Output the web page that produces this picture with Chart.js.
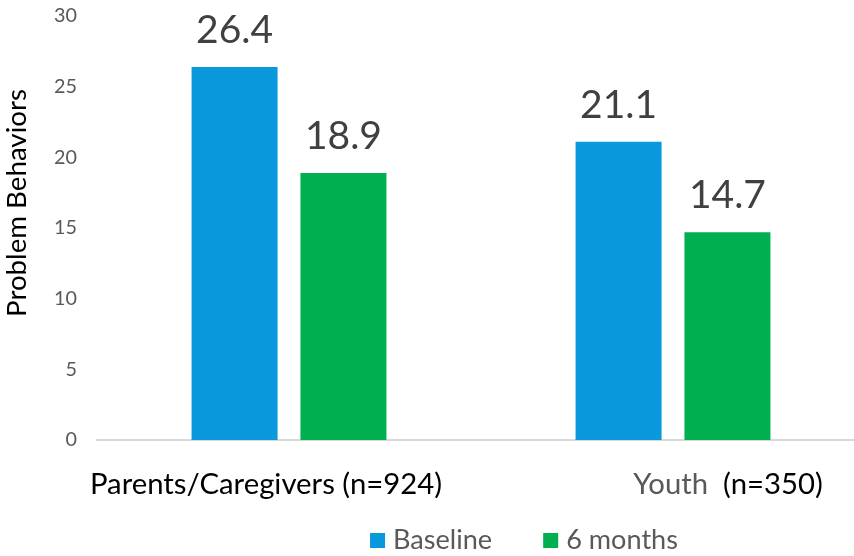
<!DOCTYPE html>
<html><head><meta charset="utf-8">
<script src="https://cdn.jsdelivr.net/npm/chart.js@4"></script>
<style>html,body{margin:0;padding:0;background:#fff}#wrap{width:854px;height:556px;position:relative}</style>
</head><body><div id="wrap"><canvas id="c" width="854" height="556"></canvas></div>
<script>
const categories = ['Parents/Caregivers', 'Youth'];
const sampleSizes = ['(n=924)', '(n=350)'];
const seriesNames = ['Baseline', '6 months'];
const baselineValues = [26.4, 21.1];
const sixMonthValues = [18.9, 14.7];
const yAxisTitle = 'Problem Behaviors';

const FAMILY = 'Lato, "Open Sans", sans-serif';
const BLUE = '#0A98DC';
const GREEN = '#00B050';

// choose a font size so that a sample string has the given width
const measurer = document.createElement('canvas').getContext('2d');
function fitSize(text, width) {
  measurer.font = '100px ' + FAMILY;
  return Math.round(100 * width / measurer.measureText(text).width * 10) / 10;
}
const SIZE_VALUE = fitSize('26.4', 77);
const SIZE_CAT = fitSize('Parents/Caregivers (n=924)', 352);
const SIZE_LEGEND = fitSize('Baseline', 99);
const SIZE_TITLE = fitSize(yAxisTitle, 228);
const SIZE_TICK = fitSize('30', 23);

// the plot area in the reference runs past the right edge of the picture
const EXTRA_RIGHT = 11;

const customPlugin = {
  id: 'customText',
  afterLayout(chart) {
    const xs = chart.scales.x;
    xs.right += EXTRA_RIGHT;
    xs.width += EXTRA_RIGHT;
    xs.configure();
  },
  afterDatasetsDraw(chart) {
    const ctx = chart.ctx;
    const area = chart.chartArea;
    ctx.save();
    ctx.textBaseline = 'alphabetic';
    // data labels
    ctx.font = SIZE_VALUE + 'px ' + FAMILY;
    ctx.fillStyle = '#404040';
    ctx.textAlign = 'center';
    chart.data.datasets.forEach((ds, i) => {
      chart.getDatasetMeta(i).data.forEach((bar, j) => {
        ctx.fillText(ds.data[j].toFixed(1), bar.x, bar.y - 24);
      });
    });
    // y-axis title
    ctx.save();
    ctx.translate(17, (area.top + area.bottom) / 2 - 25);
    ctx.rotate(-Math.PI / 2);
    ctx.font = SIZE_TITLE + 'px ' + FAMILY;
    ctx.fillStyle = '#000000';
    ctx.textBaseline = 'middle';
    ctx.fillText(yAxisTitle, 0, 0);
    ctx.restore();
    // category labels (two-colour text)
    const xs = chart.scales.x;
    const catColors = ['#000000', '#595959'];
    const offsets = [-23, 55];
    ctx.font = SIZE_CAT + 'px ' + FAMILY;
    ctx.textAlign = 'left';
    categories.forEach((cat, j) => {
      const parts = [[cat, catColors[j]], [(j === 1 ? '  ' : ' ') + sampleSizes[j], '#000000']];
      const total = parts.reduce((s, p) => s + ctx.measureText(p[0]).width, 0);
      let x = xs.getPixelForValue(j) + offsets[j] - total / 2;
      const y = area.bottom + 54;
      parts.forEach(p => { ctx.fillStyle = p[1]; ctx.fillText(p[0], x, y); x += ctx.measureText(p[0]).width; });
    });
    // legend
    ctx.font = SIZE_LEGEND + 'px ' + FAMILY;
    const items = chart.data.datasets.map(ds => ({ text: ds.label, color: ds.backgroundColor }));
    const box = 15, gapText = 8, gapItem = 51;
    const widths = items.map(it => box + gapText + ctx.measureText(it.text).width);
    const totalW = widths.reduce((a, b) => a + b, 0) + gapItem * (items.length - 1);
    let lx = 524 - totalW / 2;
    items.forEach((it, k) => {
      ctx.fillStyle = it.color;
      ctx.fillRect(lx, area.bottom + 93, box, box);
      ctx.fillStyle = '#595959';
      ctx.fillText(it.text, lx + box + gapText, area.bottom + 109);
      lx += widths[k] + gapItem;
    });
    ctx.restore();
  }
};

new Chart(document.getElementById('c'), {
  type: 'bar',
  data: {
    labels: categories,
    datasets: [
      { label: seriesNames[0], data: baselineValues, backgroundColor: BLUE },
      { label: seriesNames[1], data: sixMonthValues, backgroundColor: GREEN }
    ]
  },
  options: {
    responsive: false,
    animation: false,
    devicePixelRatio: 1,
    layout: { padding: { top: 0, right: 0, bottom: 116, left: 0 } },
    plugins: { legend: { display: false }, tooltip: { enabled: false } },
    datasets: { bar: { categoryPercentage: 0.567, barPercentage: 0.79 } },
    scales: {
      x: {
        grid: { display: false },
        border: { display: true, color: '#D9D9D9', width: 2 },
        ticks: { display: false },
        afterFit(s) { s.height = 0; }
      },
      y: {
        min: 0, max: 30,
        ticks: { stepSize: 5, color: '#595959', font: { family: FAMILY, size: SIZE_TICK }, padding: 12 },
        grid: { display: false },
        border: { display: false },
        title: { display: false },
        afterFit(s) { s.width = 97; s.paddingTop = 16; }
      }
    }
  },
  plugins: [customPlugin]
});
</script>
</body></html>
